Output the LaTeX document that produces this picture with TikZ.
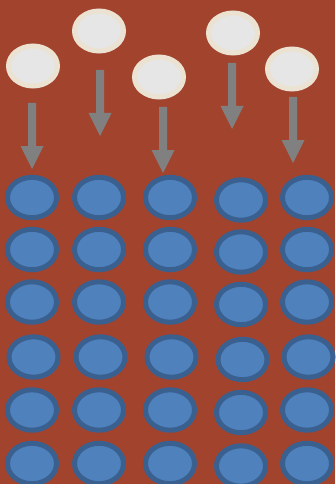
\documentclass[tikz,border=0pt]{standalone}
\usepackage{tikz}
\definecolor{bg}{HTML}{A2432E}
\definecolor{bluefill}{HTML}{4F81BD}
\definecolor{blueline}{HTML}{3A6090}
\definecolor{whitefill}{HTML}{E6E6E6}
\definecolor{whiteline}{HTML}{EBE2D2}
\definecolor{arrowgray}{HTML}{808080}
\tikzset{
  hole/.style={draw=blueline, fill=bluefill, line width=5pt},
  disc/.style={draw=whiteline, fill=whitefill, line width=5pt},
  droparrow/.style={fill=arrowgray, draw=none}
}
\begin{document}
\begin{tikzpicture}[x=1pt,y=-1pt]
\fill[bg] (0,0) rectangle (335,484);
\useasboundingbox (0,0) rectangle (335,484);
% blue holes
\foreach \cx/\dy [count=\c] in {32/0,99/0,170/0,241/2.5,307/0}{
  \foreach \ry/\dx [count=\r] in {197.5/0,249.5/0,302/0,357/1.5,410/0,463.5/0}{
    \draw[hole] (\cx+\dx,\ry+\dy) coordinate (h\c\r) ellipse [x radius=24.5, y radius=20.2];
  }
}
% white discs
\foreach \cx/\cy [count=\i] in {33/66,99/31,159/77,233/33,292/69}{
  \draw[disc] (\cx,\cy) coordinate (d\i) ellipse [x radius=24.5, y radius=20];
}
% arrows
\foreach \ax/\top [count=\i] in {32/103,100/70,163/107,232/63,293/97}{
  \coordinate (at\i) at (\ax,\top);
  \coordinate (ab\i) at (\ax,\top+66);
  \fill[droparrow] ([xshift=-4pt]at\i) -- ([xshift=4pt]at\i) -- ([xshift=4pt,yshift=23pt]ab\i)
     -- ([xshift=11.5pt,yshift=23pt]ab\i) -- (ab\i) -- ([xshift=-11.5pt,yshift=23pt]ab\i)
     -- ([xshift=-4pt,yshift=23pt]ab\i) -- cycle;
}
\end{tikzpicture}
\end{document}
